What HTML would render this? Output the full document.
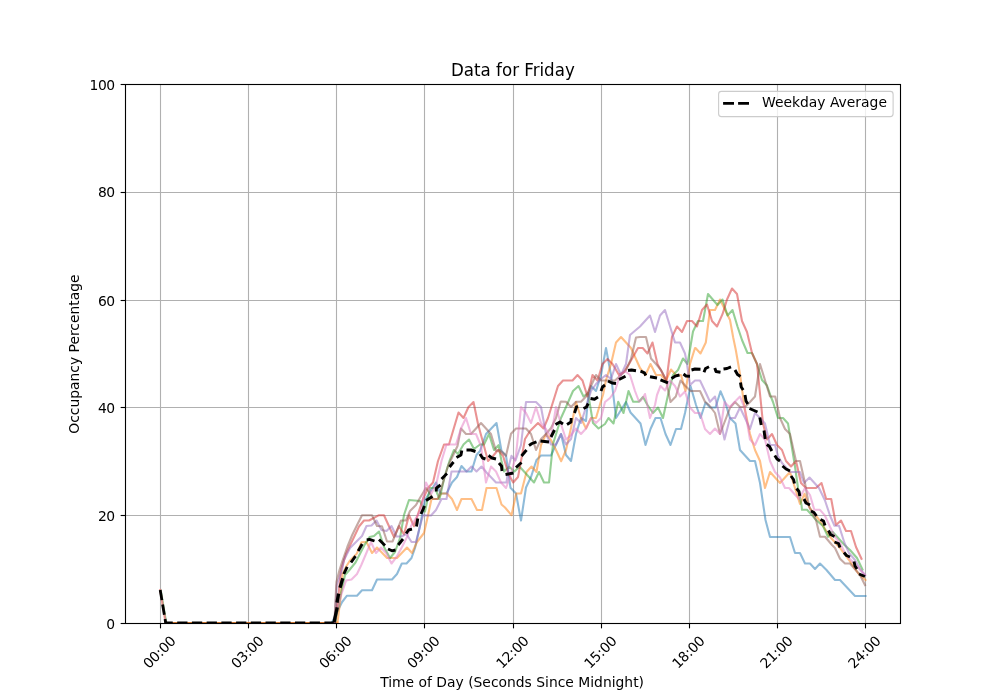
<!DOCTYPE html>
<html lang="en">
<head>
<meta charset="utf-8">
<title>Data for Friday</title>
<style>
html,body{margin:0;padding:0;background:#fff;}
body{width:1000px;height:700px;overflow:hidden;}
svg{display:block;}
svg text{font-family:"DejaVu Sans","Liberation Sans",sans-serif;fill:#000;}
.tk{font-size:13.89px;}
.tl{letter-spacing:-0.4px;}
.ti{font-size:16.67px;}
.gr{stroke:#b0b0b0;stroke-width:1.11;fill:none;}
.tm{stroke:#000;stroke-width:1.11;fill:none;}
.ln{fill:none;stroke-width:2.08;stroke-linejoin:round;stroke-linecap:square;stroke-opacity:0.5;}
</style>
</head>
<body>
<svg width="1000" height="700" viewBox="0 0 1000 700">
<rect x="0" y="0" width="1000" height="700" fill="#ffffff"/>
<defs><clipPath id="ax"><rect x="125" y="84" width="775" height="539"/></clipPath></defs>
<g class="gr">
<line x1="160.5" y1="84" x2="160.5" y2="623"/>
<line x1="248.5" y1="84" x2="248.5" y2="623"/>
<line x1="336.5" y1="84" x2="336.5" y2="623"/>
<line x1="424.5" y1="84" x2="424.5" y2="623"/>
<line x1="513.5" y1="84" x2="513.5" y2="623"/>
<line x1="601.5" y1="84" x2="601.5" y2="623"/>
<line x1="689.5" y1="84" x2="689.5" y2="623"/>
<line x1="777.5" y1="84" x2="777.5" y2="623"/>
<line x1="865.5" y1="84" x2="865.5" y2="623"/>
<line x1="125" y1="515.5" x2="900" y2="515.5"/>
<line x1="125" y1="407.5" x2="900" y2="407.5"/>
<line x1="125" y1="300.5" x2="900" y2="300.5"/>
<line x1="125" y1="192.5" x2="900" y2="192.5"/>
</g>
<g clip-path="url(#ax)">
<polyline class="ln" stroke="#1f77b4" points="165.7,623 332,623 332,622.5"/>
<polyline class="ln" stroke="#2ca02c" points="165.7,623 335,623 335,622.5"/>
<polyline class="ln" stroke="#d62728" points="165.7,623 334.5,623 334.5,622.5"/>
<polyline class="ln" stroke="#ff7f0e" points="165.7,623 337.5,623 337.5,622.5"/>
<polyline class="ln" stroke="#2ca02c" points="160.8,590.6 166.3,623"/>
<polyline class="ln" stroke="#ff7f0e" points="160.2,590 165.7,623"/>
<polyline class="ln" stroke="#e377c2" points="160.2,590 165.7,623"/>
<polyline class="ln" stroke="#1f77b4" points="332,622.5 337.2,611.9 342.1,602 347,595.7 357,595.7 362,590.3 372,590.3 377,579.5 392,579.5 397,574 401.8,563.5 406.5,563.5 411.5,558 415,548 420,526 425,500 436,482.5 440.5,493.5 446.5,493.5 452,482.5 457,477 461.5,466 466.5,471.5 471.5,471.5 476.5,455 480,451 486,434 496.5,423 501.5,451 506,455.5 510.5,487.8 516,493.5 521,520.5 526,487.5 531,477 536.5,460 541,455.5 551,455.5 556,444.5 561,434 566,455 571,461 576,434 581,418 586,421 588,399 591,386 596,391 601,375 606,348 611,375 616,418 626,402 630.5,412.5 640.5,423.5 645.5,445 650.5,429 655.5,418 660.5,418 665.5,434 670.5,445 676,429 681,429 685,413 690.5,386 696,405 700.5,418 705.5,402.5 710,407.5 715.5,407.5 720.5,391.2 725,402 730,418 735.5,423.5 740,450 750,461 755,461 760,483 765.5,520 770,537 790,537 795,553 800,553 805,563.5 810,563.5 815,569 820,563.5 826.5,570 835,580 840,580 855,596 865.5,596"/>
<polyline class="ln" stroke="#ff7f0e" points="337.5,622.5 340.5,598 342.6,574 346.5,566 349.8,560.8 356.8,553.6 361.5,542.2 366.5,542 372,553 377,547.5 387,558 397,558 407,547.5 412,553 417,542 424,533 427,520 431.5,499 437.5,499 441.5,493.5 447,493.5 452,499 457,510 461.5,499 471.5,499 477,510 482,510 486.5,488 496.5,488 501.5,504.5 505,507.5 511.5,515.2 516.2,493.5 521,493.5 526.5,472 531.5,466.5 536.5,472 541,445 546,434 551,440 556,450 561.2,461.2 566,450 571,428 576,402 581,418 586,428.5 591,418 596,418 600.7,402 603,395 606,380 611,364 616,342.5 621,337 631,348 640,368 645.5,375 650.5,364 656,375 661,375 666,380.5 671,369.5 676,375 681,375 685.5,391 690,364 695,348 695.5,348 700.5,353.5 705.8,342.5 710,310 715,310 720,299.5 730,320 733.2,337.5 735.8,350 740,374 744.5,407.5 750,434 755,450 760,461 765,488 770,472 780,483 790,472 795,488 800,504 804.5,493.8 809.7,507.8 820,521 830,536.8 840,548 850,561.5 858,573 865.5,580"/>
<polyline class="ln" stroke="#2ca02c" points="335,622.5 339.5,600 345,575 349,570.5 355.5,562.5 364.5,545 369.5,537 374,536 379,531.5 384,547 390,558 395,552 400,538 404,515 409,500 420,501 425,511.5 430,488 435,488 439.5,499 444.5,477 449.5,461 454,450 458,454 463.5,444.5 469,439.5 474,449 480,444.5 484,444.5 489,434 494,450 498.5,445.2 501.5,461 504,471.5 509.2,466.8 514.5,471.5 519.5,466.5 534,482.5 539,472 544,482.5 549,482.5 553,444 561,418 566,407 573,391 578.5,386 583.5,396.5 588,393 593,423 598.5,428.5 605,424 608.5,418 613.5,423.5 618.2,401.8 623.5,413 628.5,391 633.2,401.8 638.8,401.8 643,397 647.5,405 653,413 658,407.5 663,418 668,395 673,375 678,370 683,358.5 687.5,364 693,331.5 698,321 703,321 708,294 717.5,305 722.5,299.5 727.5,315.5 732.5,310 737.5,326.5 742,340 747.5,353 752,353 757,364 762,380 767,385.5 771,397 773,402 778,418 783,418 788,423.5 795,466.5 798,488 801.5,505 802,509.8 807,509.8 812,515.2 816,520 823,526 828,536.8 832.5,531.8 844.5,545 850,550 857,558 862.5,569.5"/>
<polyline class="ln" stroke="#d62728" points="334.5,622.5 338,600 341,570 346,554 359,526.5 364,520.5 369,520.5 379,515.2 384,515.2 389,526.2 394,537 399,526 404,534.5 409,515.2 414,526.2 419,511 423,499 428,488 433,482.5 438,461 444,444.5 449,444.5 458.5,412.5 463.5,418 468.5,407 473.5,402 478,424 484,446 488,461 493,456 498,450 503,455.8 508.5,474 513.2,482.5 518,477 520,466.5 525,439 530,431 538,423 543.5,428.5 548,418 553,402 558,386 563,380.5 572.5,380.5 577.5,375 582.5,380.5 587.5,396.5 592.5,375 597.5,380.5 602.5,364 607.5,359 612.5,364 619,375 624,372 629,364 638,348 642.7,348 647.5,353.5 652.5,342.5 657.5,364 666.5,380.5 672,337 677,326.5 682,332 687,321 692,321 697,326.5 702,310 707,304.5 712,321 717,326.5 722.5,314.2 727,299.5 732,288.5 737,294 742,321 747,332 752,353 757,364 763,423.5 767,439.5 772,434 777,445 782,450 786,461 791,466.5 796,461 801,483 806,488 816,488 821.5,483 826.2,499 831.2,499 836,525 841,520.5 846,531 851,531 856,547 861.5,558.8"/>
<polyline class="ln" stroke="#9467bd" points="334.6,622.5 336.7,585 342,570 344,560 350,548 362,536 366.5,526 371.5,525.5 376.5,520.5 381.5,530 386.5,531 391.5,526 396.5,536.5 401.5,536.5 406.5,534 411.5,542 416,542 420,526 423,515.2 431,515.5 436,510 441.5,499 446.5,499 451.5,471.5 466.5,471.5 471.5,466.5 476.5,471.5 481.5,466.5 486.5,472.5 496,482.5 506.5,482.5 508.5,467 511.5,455.8 515.5,460.5 521,445 526,402 536,402 541,407 546,434 551,444.5 556,444.5 561,434 566,444.5 571,439 576,418 581,423 586,407 591,391 596,384 601,379 606,375 611,379 616,364 621,375 626,364 630,335 640,326.5 650,315.5 655,332 660,315.5 665,310 675,342.5 680,342.5 685,353.5 687,364 690,385 695,380.5 700,380.5 705,391 710,401.8 715,396.5 720,418 724.5,439.5 730,418 735,418 740,407.5 745,418 750,429 755,413 760,418 765,423.5 770,445 775,445 778,456 782,463 790,472 800,472 804,483 809.5,477.5 819,488 825,500.5 830,515.5 834.5,525.8 839,525.8 844.5,543 849,553 855,560 860,569 865,575"/>
<polyline class="ln" stroke="#8c564b" points="334.4,622.5 336.4,582 339.5,570 342.4,561 347.3,547 352.2,535 357.1,525 362,515.2 372,515.2 377,526 382,526.2 387,541.5 392.5,541.5 396.5,532 401,520.5 406,520.5 410,511 416,505 420.2,497.5 426,488 430,493.5 433,499 438,499 443,482.5 448,466 453,455.5 457.5,446 461,428.5 466,434 471,434 481,423 491,434 496,451 500,450 506,455.8 511,433.8 516,428.5 520,428.5 526,428.5 531,434 536,450 541,439 546,434 551,428 556,418 560.5,402 561,401.5 566,401.8 571,407 576,401.8 581,401.8 586,396.5 591,386 596,375 601,380.5 615,380.5 621,375 626,370 631,359 636,337.5 640,337 646,337 651,358.5 656,364 661,370 666,380 670.5,402 675.8,396.5 680.5,380.5 685.5,386 690.5,391 700,391 705,401.8 709,405 715,413 720,434 730,407.8 735,402 740,407 745,407 750,402 755,396.5 760,364 770,396.5 771,396.5 775.2,396.5 780,418 785,429 790,434 796,461 800,461 805,483 809,506.3 816,520 820,536.8 825,536.8 832,545 835,548 840,558.8 845,563.5 850,563.5 860,575 865,585"/>
<polyline class="ln" stroke="#e377c2" points="334.5,622.5 338,607 341.2,595 346,580.6 351.5,579.5 357,574 361.3,565 371,542 376,553 381,547.5 386,553 391.5,563.5 396.5,557 402,547 407,537 411,526 421,510 426,482.5 431.5,493.5 436.5,483 441.5,461 446.5,444.5 456,444.5 461,428.5 466,418 471,434 476,434 481,446 486,482.5 491,466.5 496,471.5 501,482.5 506,488 510,477 514.5,461 516,455 521,407 526,413 531,423 536,407 541,423 546,429 551,437 556,407 561,424 566,439.5 571,435 576,428.5 581,434 586,428.5 591,418 596,423 601,418 605,402 610,398 615,391 620,375 625,371 630,375 635,391 639,401.5 640.5,401 642,399 645,394 650,418 655,405 657,395 660.5,386 665,390.5 670,380.5 675,386 680,396.5 685,391.5 690,407.5 695,413 700,413 705,429 710,434 715,428.5 720,434 724.5,402 729.5,407.2 740,396.5 744.5,407.5 750,439.5 755,445 760,434 765,439.5 770,461 775,472 780,477.5 785,488 789,488 799,499 805,488 810,495 814.3,509.8 820,509.8 825,515.7 830,526.8 835,537 840,543 845,553 850,559 865,575"/>
<g fill="none" stroke="#000" stroke-width="2.78" stroke-linejoin="round">
<polyline points="160.2,590 165.7,623" stroke-dasharray="10.28 4.44"/>
<polyline points="165.7,623 333.8,623" stroke-dasharray="10.28 4.44" stroke-dashoffset="3.22"/>
<polyline stroke-width="3.3" points="334,622.4 337.2,607.4"/>
<polyline stroke-width="3.3" points="337,602.6 338.6,593.6"/>
<polyline stroke-width="3.3" points="340,587.8 342.8,578.2"/>
<polyline stroke-width="2.9" points="343.8,574 347.2,566.8"/>
<polyline stroke-width="2.9" points="351,562.5 355.5,556.2"/>
<polyline stroke-width="2.9" points="358.2,551 362.2,544"/>
<polyline stroke-width="2.9" points="366.8,540 369.5,539.3 374.5,541"/>
<polyline stroke-width="2.9" points="379,539.5 385,545.5"/>
<polyline stroke-width="2.9" points="388,549 392,550.8 395.5,550"/>
<polyline stroke-width="2.9" points="398.2,545 403,539"/>
<polyline stroke-width="2.9" points="406.2,533.5 408.5,530 412,529.2"/>
<polyline stroke-width="2.9" points="416.5,526.5 417.8,518.5"/>
<polyline stroke-width="2.9" points="421,514 424.5,506"/>
<polyline stroke-width="2.9" points="426,500.5 432.5,496.5"/>
<polyline stroke-width="2.9" points="436.2,491.5 436.5,488 440.5,485"/>
<polyline stroke-width="2.9" points="441.5,479 447,473.5"/>
<polyline stroke-width="2.9" points="449.5,467 453.5,462"/>
<polyline stroke-width="2.9" points="456.5,457.5 461,455 461.8,450.5"/>
<polyline stroke-width="2.9" points="466.5,450 471,450 475.5,451.5"/>
<polyline stroke-width="2.9" points="480,454 482.5,458 485.5,459"/>
<polyline stroke-width="2.9" points="488.5,455.5 492,458 496,459"/>
<polyline stroke-width="2.9" points="499,463 501.5,466 502,471"/>
<polyline stroke-width="2.9" points="505.5,474.5 513.5,473"/>
<polyline stroke-width="2.9" points="516,467.5 521.5,462.5"/>
<polyline stroke-width="2.9" points="521.5,456 526.5,450"/>
<polyline stroke-width="2.9" points="529,445.5 532,443.5 536.5,441.8"/>
<polyline stroke-width="2.9" points="540.5,441 549,442"/>
<polyline stroke-width="2.9" points="551,437 554.5,430"/>
<polyline stroke-width="2.9" points="555.5,424.5 560,422 563,424"/>
<polyline stroke-width="2.9" points="567,424.5 571,422 571.2,418"/>
<polyline stroke-width="2.9" points="574.5,413 576.5,407 578,406.5"/>
<polyline stroke-width="2.9" points="583.5,408.5 586.5,407 588.2,403.5"/>
<polyline stroke-width="2.9" points="590.5,398.5 594.5,399.2 598,397"/>
<polyline stroke-width="2.9" points="601,391 602.5,387 605,385"/>
<polyline stroke-width="2.9" points="608,381 612,383 616,383.5"/>
<polyline stroke-width="2.9" points="619,379.5 625.5,376.2"/>
<polyline stroke-width="2.9" points="628,370.5 631.5,370 636,370.8"/>
<polyline stroke-width="2.9" points="640.5,371.2 644.5,372.8 645.8,375.5"/>
<polyline stroke-width="2.9" points="650,376.8 657,378"/>
<polyline stroke-width="2.9" points="660.5,379.8 668,382.8"/>
<polyline stroke-width="2.9" points="671.5,378.5 675,376.2 679.5,375"/>
<polyline stroke-width="2.9" points="683.5,374 686,376 690,376.2"/>
<polyline stroke-width="2.9" points="691.5,370 695,369 700.5,369.2"/>
<polyline stroke-width="2.9" points="704,372.2 705.5,368.5 709,366.8"/>
<polyline stroke-width="2.9" points="714.8,368 716,371.5 720.5,372.2"/>
<polyline stroke-width="2.9" points="723.5,369 727,368.5 731,366.8"/>
<polyline stroke-width="2.9" points="735,370 737.5,374.5 740.5,376.5"/>
<polyline stroke-width="2.9" points="740.5,382.5 741.2,387 743.2,390"/>
<polyline stroke-width="2.9" points="745,395 746,401 747.8,404"/>
<polyline stroke-width="2.9" points="749.5,408.5 757.5,412"/>
<polyline stroke-width="2.9" points="759.8,417.5 761.2,425"/>
<polyline stroke-width="2.9" points="764,430.5 765.2,439"/>
<polyline stroke-width="2.9" points="766.8,444.5 769.5,446.5 771.8,451"/>
<polyline stroke-width="2.9" points="774.8,455.5 777,459 780,461"/>
<polyline stroke-width="2.9" points="782.5,466 786,469 790,471"/>
<polyline stroke-width="2.9" points="791,476 793.5,479.5 794.5,483.5"/>
<polyline stroke-width="2.9" points="796.5,488.5 799,491.5 799.8,496"/>
<polyline stroke-width="2.9" points="804,499 806,503 810,505"/>
<polyline stroke-width="2.9" points="811,511 814,512.5 816.5,516"/>
<polyline stroke-width="2.9" points="820.5,519.5 823.5,521 825,525.5"/>
<polyline stroke-width="2.9" points="828.5,530.5 830.5,534.5 834.5,536.5"/>
<polyline stroke-width="2.9" points="834.5,542 838.5,543.5 840,547.5"/>
<polyline stroke-width="2.9" points="844,552.5 846.5,555.5 850,557"/>
<polyline stroke-width="2.9" points="854,561.5 855,566 857,569"/>
<polyline stroke-width="2.9" points="859,574 865,576.5"/>
</g>
</g>
<rect x="125.5" y="84.5" width="775" height="539" fill="none" stroke="#000" stroke-width="1.11"/>
<g class="tm">
<line x1="160.5" y1="623.5" x2="160.5" y2="628.36"/>
<line x1="248.5" y1="623.5" x2="248.5" y2="628.36"/>
<line x1="336.5" y1="623.5" x2="336.5" y2="628.36"/>
<line x1="424.5" y1="623.5" x2="424.5" y2="628.36"/>
<line x1="513.5" y1="623.5" x2="513.5" y2="628.36"/>
<line x1="601.5" y1="623.5" x2="601.5" y2="628.36"/>
<line x1="689.5" y1="623.5" x2="689.5" y2="628.36"/>
<line x1="777.5" y1="623.5" x2="777.5" y2="628.36"/>
<line x1="865.5" y1="623.5" x2="865.5" y2="628.36"/>
<line x1="120.64" y1="623.5" x2="125.5" y2="623.5"/>
<line x1="120.64" y1="515.5" x2="125.5" y2="515.5"/>
<line x1="120.64" y1="407.5" x2="125.5" y2="407.5"/>
<line x1="120.64" y1="300.5" x2="125.5" y2="300.5"/>
<line x1="120.64" y1="192.5" x2="125.5" y2="192.5"/>
<line x1="120.64" y1="84.5" x2="125.5" y2="84.5"/>
</g>
<g class="tk">
<text class="tl" x="114.8" y="629" text-anchor="end">0</text>
<text class="tl" x="114.8" y="521" text-anchor="end">20</text>
<text class="tl" x="114.8" y="413" text-anchor="end">40</text>
<text class="tl" x="114.8" y="305.5" text-anchor="end">60</text>
<text class="tl" x="114.8" y="197" text-anchor="end">80</text>
<text class="tl" x="114.8" y="90" text-anchor="end">100</text>
<text transform="translate(159.23 652) rotate(-45)" text-anchor="middle" y="5.06" style="letter-spacing:-0.2px">00:00</text>
<text transform="translate(247.23 652) rotate(-45)" text-anchor="middle" y="5.06" style="letter-spacing:-0.2px">03:00</text>
<text transform="translate(335.23 652) rotate(-45)" text-anchor="middle" y="5.06" style="letter-spacing:-0.2px">06:00</text>
<text transform="translate(423.23 652) rotate(-45)" text-anchor="middle" y="5.06" style="letter-spacing:-0.2px">09:00</text>
<text transform="translate(512.23 652) rotate(-45)" text-anchor="middle" y="5.06" style="letter-spacing:-0.2px">12:00</text>
<text transform="translate(600.23 652) rotate(-45)" text-anchor="middle" y="5.06" style="letter-spacing:-0.2px">15:00</text>
<text transform="translate(688.23 652) rotate(-45)" text-anchor="middle" y="5.06" style="letter-spacing:-0.2px">18:00</text>
<text transform="translate(776.23 652) rotate(-45)" text-anchor="middle" y="5.06" style="letter-spacing:-0.2px">21:00</text>
<text transform="translate(864.23 652) rotate(-45)" text-anchor="middle" y="5.06" style="letter-spacing:-0.2px">24:00</text>
<text x="512.1" y="687.2" text-anchor="middle">Time of Day (Seconds Since Midnight)</text>
<text transform="translate(78.6 354.1) rotate(-90)" text-anchor="middle">Occupancy Percentage</text>
</g>
<text class="ti" transform="translate(512.9 76) scale(1 1.06)" text-anchor="middle">Data for Friday</text>
<rect x="718.6" y="91.4" width="174.5" height="25.2" rx="2.8" ry="2.8" fill="#ffffff" fill-opacity="0.8" stroke="#cccccc" stroke-width="1.11"/>
<line x1="723.1" y1="103.4" x2="751.9" y2="103.4" stroke="#000" stroke-width="2.78" stroke-dasharray="10.9 4.1"/>
<text class="tk" x="762" y="107">Weekday Average</text>
</svg>
</body>
</html>
